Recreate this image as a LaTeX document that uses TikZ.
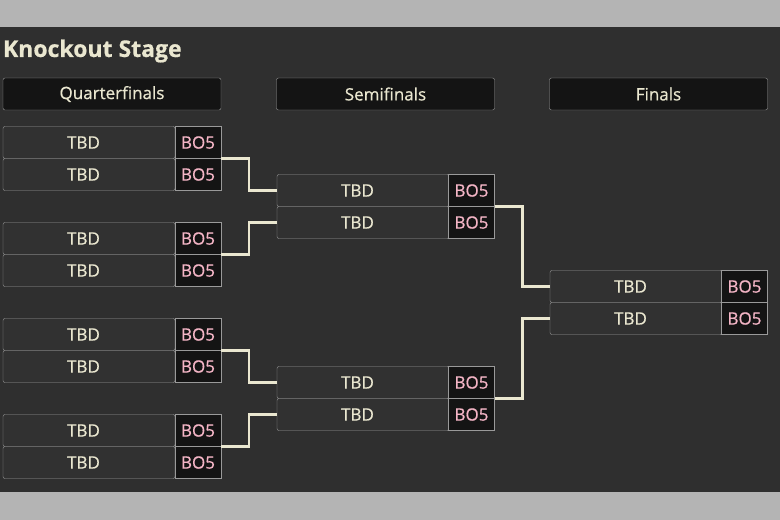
\documentclass[tikz,border=0pt]{standalone}
\usepackage{fontspec}
\setmainfont{Open Sans}[FakeBold=0.6]
\newfontfamily\medfont{Open Sans}[FakeBold=0.6,AutoFakeBold=0.6]
\definecolor{pagegray}{HTML}{B4B4B4}
\definecolor{boarddark}{HTML}{2F2F2F}
\definecolor{rowfill}{HTML}{313131}
\definecolor{cellblack}{HTML}{141414}
\definecolor{edgegray}{HTML}{9A9A9A}
\definecolor{cream}{HTML}{EAE7D0}
\definecolor{pinkish}{HTML}{F4B5C6}
\begin{document}
\begin{tikzpicture}[x=1pt,y=-1pt,inner sep=0pt,outer sep=0pt,
team/.style={draw=edgegray,fill=rowfill,rectangle,rounded corners=2pt,minimum width=172pt,minimum height=32pt,text=cream,font=\fontsize{17}{17}\medfont},
bestof/.style={draw=edgegray,fill=cellblack,rectangle,minimum width=46pt,minimum height=32pt,text=pinkish,font=\fontsize{17}{17}\medfont},
roundhead/.style={draw=edgegray,fill=cellblack,rectangle,rounded corners=2pt,minimum width=218pt,minimum height=32pt,text=cream,font=\fontsize{17}{17}\medfont},
link/.style={draw=cream,line width=2.2pt}]
\useasboundingbox (0,0) rectangle (780,520);
\fill[pagegray] (0,0) rectangle (780,520);
\fill[boarddark] (0,27) rectangle (780,492);
\node[anchor=west,text=cream,font=\fontsize{23}{23}\selectfont\bfseries] (title) at (3,51) {Knockout Stage};
% round headers
\node[roundhead] (hq) at (112,94) {Quarterfinals};
\node[roundhead] (hs) at (385.5,94) {Semifinals};
\node[roundhead] (hf) at (658.5,94) {Finals};
% quarterfinals
\foreach \i/\y in {1/142.5,2/238.5,3/334.5,4/430.5} {
  \node[team] (q\i a) at (89,\y) {\hspace*{-11pt}TBD};
  \node[bestof] (q\i ab) at (198,\y) {BO5};
  \node[team] (q\i b) at (89,\y+32) {\hspace*{-11pt}TBD};
  \node[bestof] (q\i bb) at (198,\y+32) {BO5};
}
% semifinals
\foreach \i/\y in {1/190.5,2/382.5} {
  \node[team] (s\i a) at (363,\y) {\hspace*{-11pt}TBD};
  \node[bestof] (s\i ab) at (471.5,\y) {BO5};
  \node[team] (s\i b) at (363,\y+32) {\hspace*{-11pt}TBD};
  \node[bestof] (s\i bb) at (471.5,\y+32) {BO5};
}
% finals
\node[team] (f1a) at (636,286.5) {\hspace*{-11pt}TBD};
\node[bestof] (f1ab) at (744.5,286.5) {BO5};
\node[team] (f1b) at (636,318.5) {\hspace*{-11pt}TBD};
\node[bestof] (f1bb) at (744.5,318.5) {BO5};
% connectors
\draw[link] (q1bb.north east) -- ++(28,0) |- (s1a.west);
\draw[link] (q2bb.north east) -- ++(28,0) |- (s1b.west);
\draw[link] (q3bb.north east) -- ++(28,0) |- (s2a.west);
\draw[link] (q4bb.north east) -- ++(28,0) |- (s2b.west);
\draw[link] (s1bb.north east) -- ++(28,0) |- (f1a.west);
\draw[link] (s2bb.north east) -- ++(28,0) |- (f1b.west);
\end{tikzpicture}
\end{document}
